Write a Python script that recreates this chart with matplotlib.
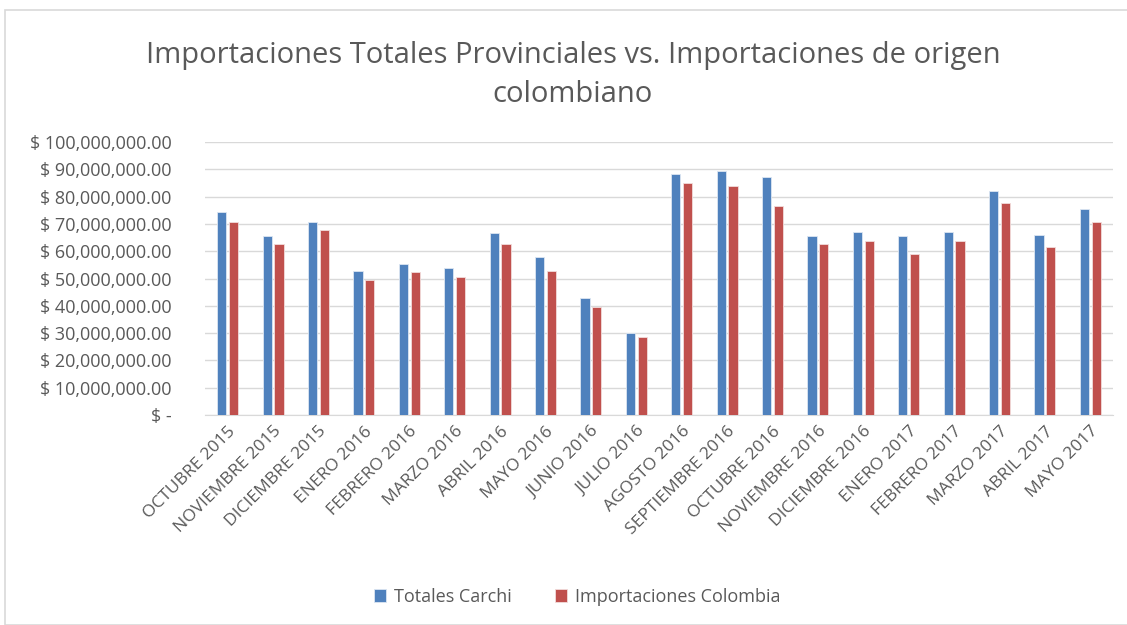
import matplotlib
matplotlib.use('Agg')
import matplotlib.pyplot as plt
import numpy as np
from matplotlib.patches import Rectangle
from matplotlib.ticker import FuncFormatter

months = ['OCTUBRE 2015', 'NOVIEMBRE 2015', 'DICIEMBRE 2015', 'ENERO 2016', 'FEBRERO 2016',
          'MARZO 2016', 'ABRIL 2016', 'MAYO 2016', 'JUNIO 2016', 'JULIO 2016', 'AGOSTO 2016',
          'SEPTIEMBRE 2016', 'OCTUBRE 2016', 'NOVIEMBRE 2016', 'DICIEMBRE 2016', 'ENERO 2017',
          'FEBRERO 2017', 'MARZO 2017', 'ABRIL 2017', 'MAYO 2017']
totales_carchi = [74.2, 65.6, 70.8, 52.8, 55.4, 53.8, 66.5, 57.9, 42.7, 30.0,
                  88.3, 89.5, 87.3, 65.6, 66.9, 65.6, 66.9, 82.2, 66.0, 75.4]
importaciones_colombia = [70.8, 62.7, 67.8, 49.4, 52.4, 50.7, 62.7, 52.8, 39.7, 28.6,
                          84.8, 83.9, 76.7, 62.7, 63.9, 58.8, 63.9, 77.6, 61.4, 70.8]
series_names = ['Totales Carchi', 'Importaciones Colombia']

BLUE = '#4F81BD'
RED = '#C0504D'
TXT = '#595959'
FONT = 'Open Sans'

plt.rcParams['font.family'] = [FONT, 'DejaVu Sans']

fig = plt.figure(figsize=(11.27, 6.25), dpi=100)
fig.patches.append(Rectangle((5/1127, 0), 1.0, 1 - 10/625, transform=fig.transFigure,
                             facecolor='none', edgecolor='#D9D9D9', linewidth=1.2))
ax = fig.add_axes([205/1127, 1 - 415/625, (1113 - 205)/1127, (415 - 142)/625])

x = np.arange(len(months))
w = 0.2
vals_b = np.array(totales_carchi) * 1e6
vals_r = np.array(importaciones_colombia) * 1e6
ax.bar(x - 0.13, vals_b, w, color=BLUE, edgecolor='#DCE6F2', linewidth=0.6, label=series_names[0], zorder=3)
ax.bar(x + 0.13, vals_r, w, color=RED, edgecolor='#F2DCDB', linewidth=0.6, label=series_names[1], zorder=3)

ax.set_xlim(-0.5, len(months) - 0.5)
ax.set_ylim(0, 100e6)
ax.set_yticks(np.arange(0, 100e6 + 1, 10e6))


def money(v, _):
    if v == 0:
        return '$ -'
    return f'$ {v:,.2f}'


ax.yaxis.set_major_formatter(FuncFormatter(money))
ax.grid(axis='y', color='#D9D9D9', linewidth=1.0, zorder=0)
for sp in ['top', 'right', 'left']:
    ax.spines[sp].set_visible(False)
ax.spines['bottom'].set_color('#D9D9D9')
ax.tick_params(axis='both', length=0, colors=TXT)
ax.tick_params(axis='y', labelsize=13, pad=24)
ax.set_xticks(x)
ax.set_xticklabels(months, rotation=45, ha='right', rotation_mode='anchor', fontsize=12.5, color=TXT)
ax.tick_params(axis='x', pad=6)

fig.text(573/1127, 1 - 75/625, 'Importaciones Totales Provinciales vs. Importaciones de origen\ncolombiano',
         ha='center', va='center', fontsize=21, color=TXT, linespacing=1.5)

fig.legend(loc='center', bbox_to_anchor=(577/1127, 1 - 597/625), ncol=2, frameon=False,
           fontsize=13, labelcolor=TXT, handlelength=0.7, handleheight=0.7,
           handletextpad=0.4, columnspacing=2.4)

fig.savefig('out.png', dpi=100)
